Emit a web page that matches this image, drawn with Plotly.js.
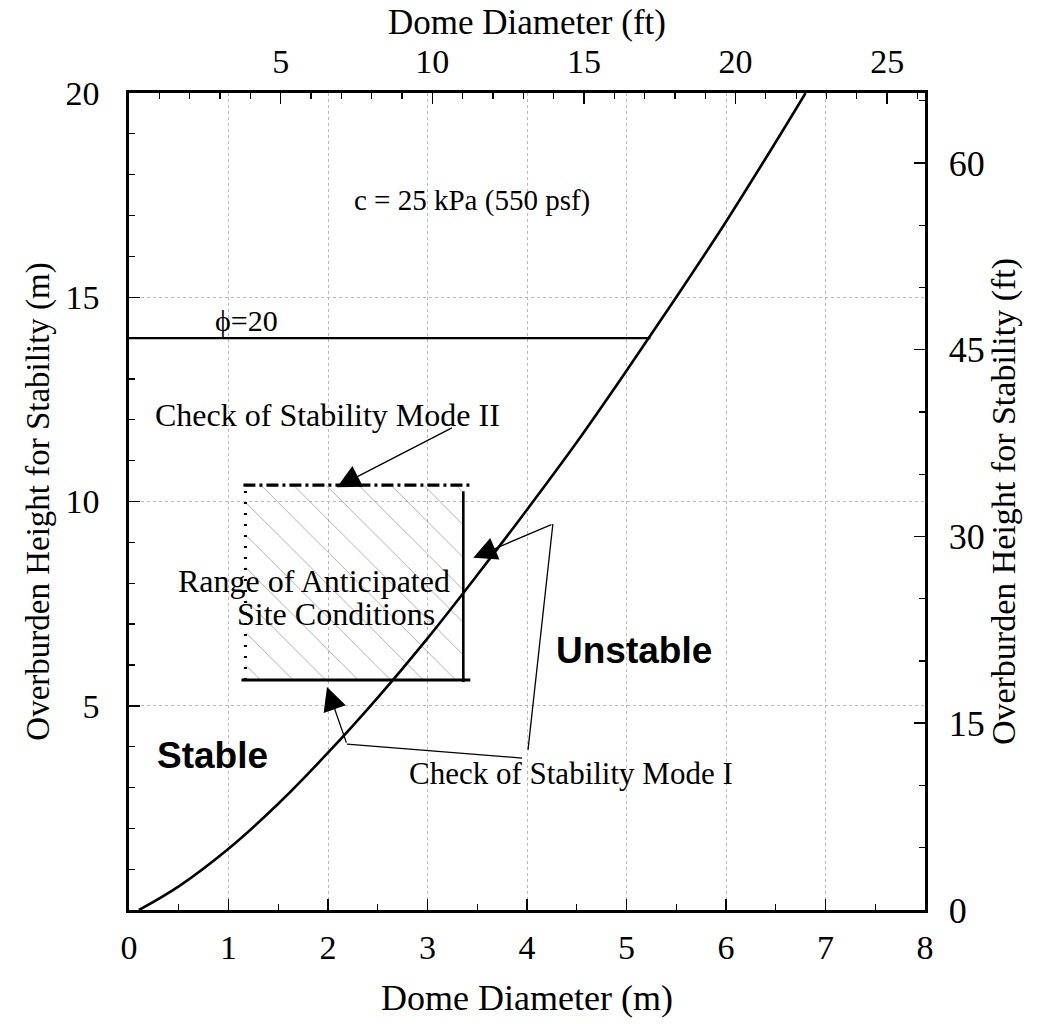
<!DOCTYPE html>
<html><head><meta charset="utf-8">
<script src="https://cdn.plot.ly/plotly-3.0.1.min.js"></script>
<style>html,body{margin:0;padding:0;background:#fff}</style>
</head><body><div id="chart" style="width:1055px;height:1024px"></div>
<script>
const M_TO_FT = 3.28084;
// Stability boundary (c = 25 kPa)
const curveDiameter = [0.1, 0.5, 1.0, 1.5, 2.0, 2.5, 3.0, 3.5, 4.0, 4.5, 5.0, 5.5, 6.0, 6.5, 6.8];
const curveHeight   = [0.0, 0.58, 1.5, 2.6, 3.85, 5.2, 6.65, 8.2, 9.8, 11.45, 13.2, 15.0, 16.85, 18.8, 20.0];
// phi = 20 cut-off line
const phiDiameter = [0, 5.24];
const phiHeight   = [14, 14];
// Range of anticipated site conditions
const rangeLeft = 1.17, rangeRight = 3.36, rangeBottom = 5.63, rangeTop = 10.4;
const bottomEdgeX = [1.13, 3.43], bottomEdgeY = [5.63, 5.63];
const topEdgeX = [1.15, 3.43], topEdgeY = [10.4, 10.4];
const rightEdgeX = [3.36, 3.36], rightEdgeY = [5.58, 10.25];
const leftEdgeX = [1.17, 1.17], leftEdgeY = [5.63, 10.4];
// Leader lines for "Check of Stability Mode I"
const leaderAX = [3.95, 2.19], leaderAY = [3.72, 4.06];
const leaderBX = [4.01, 4.26], leaderBY = [3.92, 9.45];
// Axis ticks
const xTicksM = [0,1,2,3,4,5,6,7,8];
const xTicksFt = [5,10,15,20,25];
const yTicksM = [5,10,15,20];
const yTicksFt = [0,15,30,45,60];

const serif = 'Liberation Serif, Times New Roman, serif';
const sans = 'Liberation Sans, Arial, sans-serif';
const blk = '#000';

function line(x, y, w, dash, shape) {
  return {x: x, y: y, type: 'scatter', mode: 'lines',
          line: {color: blk, width: w, dash: dash || 'solid', shape: shape || 'linear', smoothing: 1},
          hoverinfo: 'skip', showlegend: false, xaxis: 'x', yaxis: 'y'};
}

const traces = [
  {x: [rangeLeft, rangeRight, rangeRight, rangeLeft, rangeLeft],
   y: [rangeBottom, rangeBottom, rangeTop, rangeTop, rangeBottom],
   type: 'scatter', mode: 'lines', fill: 'toself', line: {width: 0, color: 'rgba(0,0,0,0)'},
   fillcolor: 'rgba(0,0,0,0)',
   fillpattern: {shape: '\\', size: 23, solidity: 0.03, fgcolor: '#8a8a8a', bgcolor: 'rgba(0,0,0,0)'},
   hoverinfo: 'skip', showlegend: false},
  line(curveDiameter, curveHeight, 2.6, 'solid', 'spline'),
  line(phiDiameter, phiHeight, 2.2),
  line(bottomEdgeX, bottomEdgeY, 3.2),
  line(topEdgeX, topEdgeY, 3.2, '12px,4px,3px,4px'),
  line(rightEdgeX, rightEdgeY, 2.6),
  line(leftEdgeX, leftEdgeY, 3, '2px,9px'),
  line(leaderAX, leaderAY, 1.3),
  line(leaderBX, leaderBY, 1.3),
  {x: [0, 8 * M_TO_FT], y: [0, 20 * M_TO_FT], type: 'scatter', mode: 'none', xaxis: 'x2', yaxis: 'y2',
   hoverinfo: 'skip', showlegend: false}
];

const tickFont = {family: serif, size: 34, color: blk};
const titleFont = {family: serif, size: 33, color: blk};
const common = {ticks: 'inside', ticklen: 11, tickwidth: 1.5, tickcolor: blk, showline: true,
  linewidth: 2.6, linecolor: blk, zeroline: false, tickfont: tickFont, fixedrange: true};

function txt(x, y, t, size, font, extra) {
  return Object.assign({x: x, y: y, xref: 'x', yref: 'y', text: t, showarrow: false,
    font: {family: font || serif, size: size, color: blk}}, extra || {});
}
function arrow(xt, yt, xs, ys) {
  return {x: xt, y: yt, ax: xs, ay: ys, xref: 'x', yref: 'y', axref: 'x', ayref: 'y', text: '',
    showarrow: true, arrowhead: 2, arrowsize: 3.6, arrowwidth: 1.3, arrowcolor: blk, standoff: 0, startstandoff: 0};
}

const layout = {
  width: 1055, height: 1024,
  margin: {l: 129, r: 130, t: 93, b: 114},
  paper_bgcolor: '#fff', plot_bgcolor: '#fff',
  showlegend: false, hovermode: false,
  xaxis: Object.assign({}, common, {
    range: [0, 8], tickvals: xTicksM, ticklabelstandoff: 6,
    minor: {dtick: 0.5, ticks: 'inside', ticklen: 6, tickwidth: 1.2, tickcolor: blk, showgrid: false},
    showgrid: true, gridcolor: '#b8b8b8', gridwidth: 1, griddash: '3px,3px',
    title: {text: 'Dome Diameter (m)', font: {family: serif, size: 36, color: blk}, standoff: 20}
  }),
  xaxis2: Object.assign({}, common, {
    overlaying: 'x', side: 'top', anchor: 'y', range: [0, 8 * M_TO_FT], tickvals: xTicksFt,
    ticklabelstandoff: 4,
    minor: {dtick: 1, ticks: 'inside', ticklen: 6, tickwidth: 1.2, tickcolor: blk, showgrid: false},
    showgrid: false
  }),
  yaxis: Object.assign({}, common, {
    range: [0, 20], tickvals: yTicksM, ticklabelstandoff: 20,
    minor: {dtick: 1, ticks: 'inside', ticklen: 6, tickwidth: 1.2, tickcolor: blk, showgrid: false},
    showgrid: true, gridcolor: '#b8b8b8', gridwidth: 1, griddash: '3px,3px',
    title: {text: 'Overburden Height for Stability (m)', font: titleFont, standoff: 6}
  }),
  yaxis2: Object.assign({}, common, {
    overlaying: 'y', side: 'right', anchor: 'x', range: [0, 20 * M_TO_FT], tickvals: yTicksFt,
    ticklabelstandoff: 14, tickfont: {family: serif, size: 36, color: blk},
    minor: {dtick: 5, ticks: 'inside', ticklen: 6, tickwidth: 1.2, tickcolor: blk, showgrid: false},
    showgrid: false,
    title: {text: 'Overburden Height for Stability (ft)', font: {family: serif, size: 34, color: blk}, standoff: 8}
  }),
  annotations: [
    {xref: 'paper', yref: 'paper', x: 0.5, y: 1.0857, yanchor: 'middle', showarrow: false,
     text: 'Dome Diameter (ft)', font: {family: serif, size: 35, color: blk}},
    txt(3.45, 17.38, 'c = 25 kPa (550 psf)', 29),
    txt(1.18, 14.42, '\u03d5=20', 30),
    txt(1.99, 12.12, 'Check of Stability Mode II', 32),
    txt(1.86, 8.05, 'Range of Anticipated', 32),
    txt(2.08, 7.25, 'Site Conditions', 32),
    txt(5.08, 6.36, '<b>Unstable</b>', 37, sans),
    txt(0.84, 3.79, '<b>Stable</b>', 37, sans),
    txt(4.44, 3.35, 'Check of Stability Mode I', 31),
    arrow(2.09, 10.35, 3.26, 11.82),
    arrow(1.99, 5.46, 2.19, 4.06),
    arrow(3.46, 8.62, 4.26, 9.45)
  ]
};

Plotly.newPlot('chart', traces, layout, {displayModeBar: false, staticPlot: true});
</script>
</body></html>
